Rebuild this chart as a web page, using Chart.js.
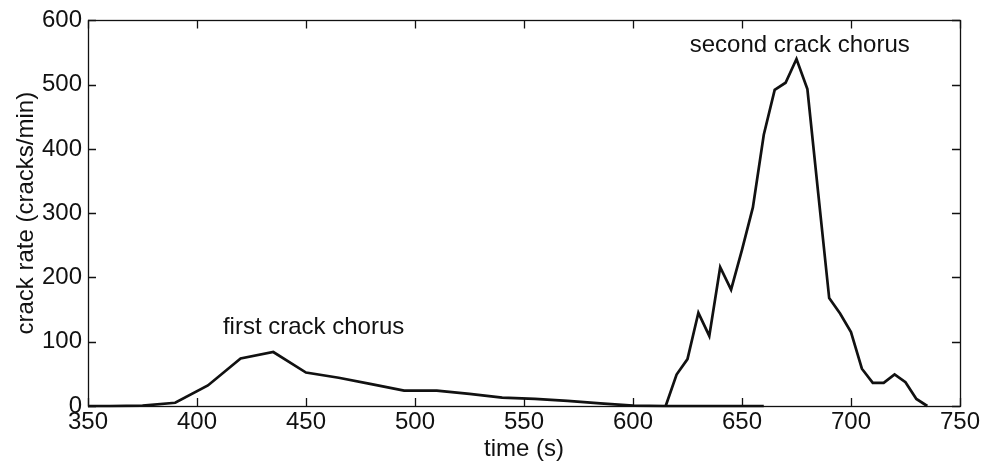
<!DOCTYPE html>
<html>
<head>
<meta charset="utf-8">
<script src="https://cdn.jsdelivr.net/npm/chart.js@4/dist/chart.umd.min.js"></script>
<style>
  html, body { margin: 0; padding: 0; background: #ffffff; }
  #wrap { width: 982px; height: 465px; position: relative; }
</style>
</head>
<body>
<div id="wrap"><canvas id="c" width="982" height="465"></canvas></div>
<script>
// ---- data ----
const times1 = [350, 360, 375, 390, 405, 420, 435, 450, 465, 480, 495, 510, 525, 540, 555, 570, 585, 600, 615, 630, 645, 660];
const rates1 = [0, 0, 0.5, 5, 32, 74, 84, 52, 44, 34, 24, 24, 19, 13, 11, 8, 4, 0.5, 0, 0, 0, 0];

const times2 = [615, 620, 625, 630, 635, 640, 645, 650, 655, 660, 665, 670, 675, 680, 685, 690, 695, 700, 705, 710, 715, 720, 725, 730, 735];
const rates2 = [0, 49, 73, 145, 109, 216, 181, 243, 309, 422, 492, 503, 540, 493, 330, 168, 144, 115, 58, 36, 36, 49, 37, 11, 0];

const xTicks = [350, 400, 450, 500, 550, 600, 650, 700, 750];
const yTicks = [0, 100, 200, 300, 400, 500, 600];

const xTitle = 'time (s)';
const yTitle = 'crack rate (cracks/min)';

const noteTexts = ['first crack chorus', 'second crack chorus'];
const noteX = [453.5, 676.5];
const noteY = [122, 561];

// ---- chart ----
const FONT = "'Liberation Sans', Arial, Helvetica, sans-serif";
const INK = '#111111';

const toPts = (xs, ys) => xs.map((x, i) => ({ x: x, y: ys[i] }));

const framePlugin = {
  id: 'frame',
  afterDatasetsDraw(chart) {
    const { ctx, chartArea: a, scales } = chart;
    const xs = scales.x, ys = scales.y;
    const L = 8;
    ctx.save();
    ctx.strokeStyle = INK;
    ctx.lineWidth = 1.3;
    ctx.beginPath();
    xTicks.forEach(t => {
      const px = Math.round(xs.getPixelForValue(t)) + 0.5;
      ctx.moveTo(px, a.bottom); ctx.lineTo(px, a.bottom - L);
      ctx.moveTo(px, a.top); ctx.lineTo(px, a.top + L);
    });
    yTicks.forEach(v => {
      const py = Math.round(ys.getPixelForValue(v)) + 0.5;
      ctx.moveTo(a.left, py); ctx.lineTo(a.left + L, py);
      ctx.moveTo(a.right, py); ctx.lineTo(a.right - L, py);
    });
    ctx.stroke();
    ctx.strokeRect(Math.round(a.left) + 0.5, Math.round(a.top) + 0.5,
                   Math.round(a.right - a.left), Math.round(a.bottom - a.top));
    // annotations
    ctx.fillStyle = INK;
    ctx.font = '24px ' + FONT;
    ctx.textAlign = 'center';
    ctx.textBaseline = 'middle';
    noteTexts.forEach((s, i) => {
      ctx.fillText(s, xs.getPixelForValue(noteX[i]), ys.getPixelForValue(noteY[i]));
    });
    ctx.restore();
  }
};

new Chart(document.getElementById('c'), {
  type: 'line',
  data: {
    datasets: [
      { data: toPts(times1, rates1), borderColor: INK, borderWidth: 2.7, pointRadius: 0,
        tension: 0, fill: false, borderJoinStyle: 'miter', clip: false },
      { data: toPts(times2, rates2), borderColor: INK, borderWidth: 2.7, pointRadius: 0,
        tension: 0, fill: false, borderJoinStyle: 'miter', clip: false }
    ]
  },
  options: {
    responsive: false,
    animation: false,
    devicePixelRatio: 1,
    layout: { padding: { left: 0, right: 22, top: 16, bottom: 0 } },
    plugins: { legend: { display: false }, tooltip: { enabled: false } },
    scales: {
      x: {
        type: 'linear', min: 350, max: 750,
        afterBuildTicks: s => { s.ticks = xTicks.map(v => ({ value: v })); },
        afterFit: s => { s.height = 59; },
        grid: { display: false, drawTicks: false },
        border: { display: false },
        ticks: { color: INK, font: { family: FONT, size: 24 }, padding: 2, maxRotation: 0 },
        title: { display: true, text: xTitle, color: INK, font: { family: FONT, size: 24 },
                 padding: { top: 0, bottom: 1 } }
      },
      y: {
        type: 'linear', min: 0, max: 600,
        afterBuildTicks: s => { s.ticks = yTicks.map(v => ({ value: v })); },
        afterFit: s => { s.width = 88; },
        grid: { display: false, drawTicks: false },
        border: { display: false },
        ticks: { color: INK, font: { family: FONT, size: 24 }, padding: 6 },
        title: { display: true, text: yTitle, color: INK, font: { family: FONT, size: 24 },
                 padding: { top: 12, bottom: 0 } }
      }
    }
  },
  plugins: [framePlugin]
});
</script>
</body>
</html>
